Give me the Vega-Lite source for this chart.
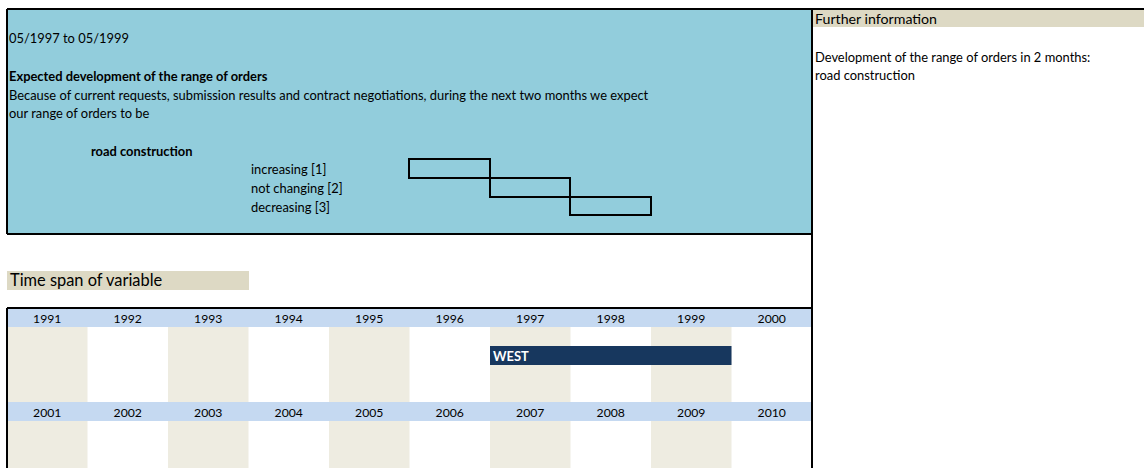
{
  "$schema": "https://vega.github.io/schema/vega-lite/v6.json",
  "width": 1144,
  "height": 468,
  "padding": 0,
  "autosize": "none",
  "background": "white",
  "config": {
    "view": {"stroke": null},
    "axis": {"disable": true},
    "text": {"font": "Lato", "fontSize": 12.9, "color": "#000000", "align": "left", "baseline": "middle"}
  },
  "datasets": {
    "boxes": [
      {"part": "panel", "x": 8, "x2": 811, "y": 10, "y2": 233},
      {"part": "label", "x": 813, "x2": 1144, "y": 10, "y2": 27},
      {"part": "label", "x": 7, "x2": 249, "y": 271, "y2": 290}
    ],
    "answers": [
      {"answer": "increasing [1]", "x": 409, "x2": 490, "y": 159, "y2": 178},
      {"answer": "not changing [2]", "x": 490, "x2": 570, "y": 178, "y2": 197},
      {"answer": "decreasing [3]", "x": 570, "x2": 651, "y": 197, "y2": 215}
    ],
    "borders": [
      {"x": 7, "x2": 1144, "y": 9, "y2": 9},
      {"x": 7, "x2": 7, "y": 9, "y2": 234},
      {"x": 7, "x2": 812, "y": 234, "y2": 234},
      {"x": 812, "x2": 812, "y": 9, "y2": 468},
      {"x": 7, "x2": 812, "y": 308, "y2": 308},
      {"x": 7, "x2": 7, "y": 308, "y2": 468}
    ],
    "texts": [
      {"text": "05/1997 to 05/1999", "x": 9, "y": 39},
      {"text": "Because of current requests, submission results and contract negotiations, during the next two months we expect", "x": 9, "y": 96},
      {"text": "our range of orders to be", "x": 9, "y": 114},
      {"text": "increasing [1]", "x": 251, "y": 170},
      {"text": "not changing [2]", "x": 251, "y": 189},
      {"text": "decreasing [3]", "x": 251, "y": 208},
      {"text": "Development of the range of orders in 2 months:", "x": 815, "y": 58},
      {"text": "road construction", "x": 815, "y": 76}
    ],
    "bold_texts": [
      {"text": "Expected development of the range of orders", "x": 9, "y": 77},
      {"text": "road construction", "x": 91, "y": 152}
    ],
    "titles": [
      {"text": "Further information", "x": 815, "y": 19.5, "size": "small"},
      {"text": "Time span of variable", "x": 10, "y": 281, "size": "large"}
    ],
    "shaded": [
      {"from": 1991, "to": 1992},
      {"from": 1993, "to": 1994},
      {"from": 1995, "to": 1996},
      {"from": 1997, "to": 1998},
      {"from": 1999, "to": 2000}
    ],
    "header_rows": [
      {"from": 1991, "to": 2001, "y": 309, "y2": 327},
      {"from": 1991, "to": 2001, "y": 402, "y2": 421}
    ],
    "years": [
      {"year": "1991", "col": 1991, "y": 319}, {"year": "1992", "col": 1992, "y": 319},
      {"year": "1993", "col": 1993, "y": 319}, {"year": "1994", "col": 1994, "y": 319},
      {"year": "1995", "col": 1995, "y": 319}, {"year": "1996", "col": 1996, "y": 319},
      {"year": "1997", "col": 1997, "y": 319}, {"year": "1998", "col": 1998, "y": 319},
      {"year": "1999", "col": 1999, "y": 319}, {"year": "2000", "col": 2000, "y": 319},
      {"year": "2001", "col": 1991, "y": 413}, {"year": "2002", "col": 1992, "y": 413},
      {"year": "2003", "col": 1993, "y": 413}, {"year": "2004", "col": 1994, "y": 413},
      {"year": "2005", "col": 1995, "y": 413}, {"year": "2006", "col": 1996, "y": 413},
      {"year": "2007", "col": 1997, "y": 413}, {"year": "2008", "col": 1998, "y": 413},
      {"year": "2009", "col": 1999, "y": 413}, {"year": "2010", "col": 2000, "y": 413}
    ],
    "spans": [
      {"region": "WEST", "from": 1997, "to": 2000, "y": 346, "y2": 365}
    ]
  },
  "resolve": {"scale": {"x": "independent"}},
  "layer": [
    {
      "layer": [
        {
          "data": {"name": "boxes"},
          "mark": {"type": "rect"},
          "encoding": {
            "x": {"field": "x", "type": "quantitative", "scale": {"domain": [0, 1144], "nice": false, "zero": false}, "axis": null},
            "x2": {"field": "x2"},
            "y": {"field": "y", "type": "quantitative", "scale": {"domain": [0, 468], "nice": false, "zero": false, "reverse": true}, "axis": null},
            "y2": {"field": "y2"},
            "color": {"field": "part", "type": "nominal", "scale": {"domain": ["panel", "label"], "range": ["#92CDDC", "#DDD9C4"]}, "legend": null}
          }
        },
        {
          "data": {"name": "answers"},
          "mark": {"type": "rect", "fillOpacity": 0, "stroke": "#000000", "strokeWidth": 2},
          "encoding": {
            "x": {"field": "x", "type": "quantitative", "scale": {"domain": [0, 1144], "nice": false, "zero": false}, "axis": null},
            "x2": {"field": "x2"},
            "y": {"field": "y", "type": "quantitative", "scale": {"domain": [0, 468], "nice": false, "zero": false, "reverse": true}, "axis": null},
            "y2": {"field": "y2"}
          }
        },
        {
          "data": {"name": "texts"},
          "mark": {"type": "text"},
          "encoding": {
            "x": {"field": "x", "type": "quantitative", "scale": {"domain": [0, 1144], "nice": false, "zero": false}, "axis": null},
            "y": {"field": "y", "type": "quantitative", "scale": {"domain": [0, 468], "nice": false, "zero": false, "reverse": true}, "axis": null},
            "text": {"field": "text"}
          }
        },
        {
          "data": {"name": "bold_texts"},
          "mark": {"type": "text", "fontWeight": "bold"},
          "encoding": {
            "x": {"field": "x", "type": "quantitative", "scale": {"domain": [0, 1144], "nice": false, "zero": false}, "axis": null},
            "y": {"field": "y", "type": "quantitative", "scale": {"domain": [0, 468], "nice": false, "zero": false, "reverse": true}, "axis": null},
            "text": {"field": "text"}
          }
        },
        {
          "data": {"name": "titles"},
          "mark": {"type": "text"},
          "encoding": {
            "x": {"field": "x", "type": "quantitative", "scale": {"domain": [0, 1144], "nice": false, "zero": false}, "axis": null},
            "y": {"field": "y", "type": "quantitative", "scale": {"domain": [0, 468], "nice": false, "zero": false, "reverse": true}, "axis": null},
            "text": {"field": "text"},
            "size": {"field": "size", "type": "nominal", "scale": {"domain": ["small", "large"], "range": [14.2, 16.4]}, "legend": null}
          }
        }
      ]
    },
    {
      "layer": [
        {
          "data": {"name": "shaded"},
          "mark": {"type": "rect", "color": "#EEECE1"},
          "encoding": {
            "x": {"field": "from", "type": "quantitative", "scale": {"domain": [1990.913, 2005.1242], "nice": false, "zero": false}, "axis": null},
            "x2": {"field": "to"},
            "y": {"datum": 327, "type": "quantitative", "scale": {"domain": [0, 468], "nice": false, "zero": false, "reverse": true}, "axis": null},
            "y2": {"datum": 468}
          }
        },
        {
          "data": {"name": "header_rows"},
          "mark": {"type": "rect", "color": "#C5D9F1"},
          "encoding": {
            "x": {"field": "from", "type": "quantitative", "scale": {"domain": [1990.913, 2005.1242], "nice": false, "zero": false}, "axis": null},
            "x2": {"field": "to"},
            "y": {"field": "y", "type": "quantitative", "scale": {"domain": [0, 468], "nice": false, "zero": false, "reverse": true}, "axis": null},
            "y2": {"field": "y2"}
          }
        },
        {
          "data": {"name": "years"},
          "mark": {"type": "text", "align": "center", "dx": 40.25, "fontSize": 12.2},
          "encoding": {
            "x": {"field": "col", "type": "quantitative", "scale": {"domain": [1990.913, 2005.1242], "nice": false, "zero": false}, "axis": null},
            "y": {"field": "y", "type": "quantitative", "scale": {"domain": [0, 468], "nice": false, "zero": false, "reverse": true}, "axis": null},
            "text": {"field": "year"}
          }
        },
        {
          "data": {"name": "spans"},
          "mark": {"type": "rect", "color": "#17375E"},
          "encoding": {
            "x": {"field": "from", "type": "quantitative", "scale": {"domain": [1990.913, 2005.1242], "nice": false, "zero": false}, "axis": null},
            "x2": {"field": "to"},
            "y": {"field": "y", "type": "quantitative", "scale": {"domain": [0, 468], "nice": false, "zero": false, "reverse": true}, "axis": null},
            "y2": {"field": "y2"}
          }
        },
        {
          "data": {"name": "spans"},
          "mark": {"type": "text", "fontWeight": "bold", "color": "#FFFFFF", "dx": 3, "dy": 10.5},
          "encoding": {
            "x": {"field": "from", "type": "quantitative", "scale": {"domain": [1990.913, 2005.1242], "nice": false, "zero": false}, "axis": null},
            "y": {"field": "y", "type": "quantitative", "scale": {"domain": [0, 468], "nice": false, "zero": false, "reverse": true}, "axis": null},
            "text": {"field": "region"}
          }
        }
      ]
    },
    {
      "data": {"name": "borders"},
      "mark": {"type": "rule", "color": "#000000", "strokeWidth": 2},
      "encoding": {
        "x": {"field": "x", "type": "quantitative", "scale": {"domain": [0, 1144], "nice": false, "zero": false}, "axis": null},
        "x2": {"field": "x2"},
        "y": {"field": "y", "type": "quantitative", "scale": {"domain": [0, 468], "nice": false, "zero": false, "reverse": true}, "axis": null},
        "y2": {"field": "y2"}
      }
    }
  ]
}
